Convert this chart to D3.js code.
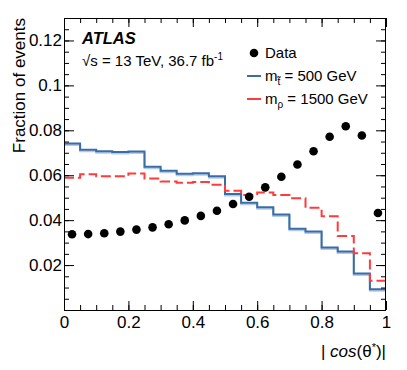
<!DOCTYPE html>
<html>
<head>
<style>
  body { margin: 0; background: #fff; }
  text { font-family: "Liberation Sans", Arial, sans-serif; }
</style>
</head>
<body>
<div id="viz"></div>
<script src="https://d3js.org/d3.v7.min.js"></script>
<script>
  // bin edges (low edge of each bin) of |cos(theta*)|
  const binLow = [0, 0.05, 0.1, 0.15, 0.2, 0.25, 0.3, 0.35, 0.4, 0.45,
                  0.5, 0.55, 0.6, 0.65, 0.7, 0.75, 0.8, 0.85, 0.9, 0.95];
  const binHigh = 1;

  const dataFrac = [0.0337, 0.0338, 0.0342, 0.0349, 0.0358, 0.0368, 0.0382, 0.0399, 0.0419, 0.0442,
                    0.0472, 0.0504, 0.0546, 0.0593, 0.0648, 0.0707, 0.0771, 0.0818, 0.0777, 0.0432];
  const stopFrac = [0.0741, 0.0714, 0.0707, 0.0703, 0.0706, 0.0638, 0.0620, 0.0607, 0.0609, 0.0595,
                    0.0516, 0.0478, 0.0457, 0.0425, 0.0362, 0.0349, 0.0278, 0.0260, 0.0163, 0.0092];
  const coloronFrac = [0.0589, 0.0604, 0.0596, 0.0596, 0.0608, 0.0586, 0.0572, 0.0567, 0.0570, 0.0558,
                       0.0531, 0.0512, 0.0523, 0.0512, 0.0498, 0.0455, 0.0417, 0.0329, 0.0253, 0.0130];

  const xMajor = [0, 0.2, 0.4, 0.6, 0.8, 1];
  const yMajor = [0.02, 0.04, 0.06, 0.08, 0.1, 0.12];

  const width = 407, height = 370;
  const pLeft = 64, pRight = 386, pTop = 18, pBottom = 310;

  const svg = d3.select("#viz").append("svg")
      .attr("width", width)
      .attr("height", height);

  const x = d3.scaleLinear().domain([0, 1]).range([pLeft, pRight]);
  const y = d3.scaleLinear().domain([0, 0.13]).range([pBottom, pTop]);

  const blue = "#3a6ca6", red = "#ff3b3b";

  // step line for a histogram
  function stepPoints(vals){
    const pts = binLow.map((b, i) => [b, vals[i]]);
    pts.push([binHigh, vals[vals.length - 1]]);
    return pts;
  }
  const step = d3.line()
      .x(d => x(d[0]))
      .y(d => y(d[1]))
      .curve(d3.curveStepAfter);

  // stop: light band under the line
  svg.append("path")
      .attr("d", step(stepPoints(stopFrac)))
      .attr("transform", "translate(0,1.5)")
      .attr("fill", "none")
      .attr("stroke", "#b4cbe3")
      .attr("stroke-width", 2);

  svg.append("path")
      .attr("d", step(stepPoints(stopFrac)))
      .attr("fill", "none")
      .attr("stroke", blue)
      .attr("stroke-width", 2);

  svg.append("path")
      .attr("d", step(stepPoints(coloronFrac)))
      .attr("fill", "none")
      .attr("stroke", red)
      .attr("stroke-width", 2)
      .attr("stroke-dasharray", "10,4");

  // data points at bin centres
  svg.selectAll(".dot")
      .data(dataFrac)
    .enter().append("circle")
      .attr("class", "dot")
      .attr("cx", (d, i) => x((binLow[i] + (binLow[i + 1] ?? binHigh)) / 2))
      .attr("cy", d => y(d))
      .attr("r", 4.3)
      .attr("fill", "#000");

  // axes: ticks inside on all four sides
  const xMinor = d3.range(0, 1.0001, 0.05);
  const yMinor = d3.range(0.005, 0.1301, 0.005);

  function ticks(axis, tr){
    const g = svg.append("g").attr("transform", tr).call(axis);
    g.select(".domain").remove();
    g.selectAll("line").attr("stroke", "#000");
    return g;
  }

  ticks(d3.axisBottom(x).tickValues(xMinor).tickSize(-5).tickFormat(""), `translate(0,${pBottom})`);
  ticks(d3.axisTop(x).tickValues(xMinor).tickSize(-5).tickFormat(""), `translate(0,${pTop})`);
  ticks(d3.axisTop(x).tickValues(xMajor).tickSize(-9).tickFormat(""), `translate(0,${pTop})`);
  ticks(d3.axisLeft(y).tickValues(yMinor).tickSize(-5).tickFormat(""), `translate(${pLeft},0)`);
  ticks(d3.axisRight(y).tickValues(yMinor).tickSize(-5).tickFormat(""), `translate(${pRight},0)`);
  ticks(d3.axisRight(y).tickValues(yMajor).tickSize(-10).tickFormat(""), `translate(${pRight},0)`);

  const xAxis = ticks(d3.axisBottom(x).tickValues(xMajor).tickSize(-9).tickPadding(6)
        .tickFormat(d3.format("")), `translate(0,${pBottom})`);
  xAxis.selectAll("text")
      .attr("font-size", 17)
      .attr("fill", "#000");

  const yAxis = ticks(d3.axisLeft(y).tickValues(yMajor).tickSize(-10).tickPadding(2)
        .tickFormat(d3.format("")), `translate(${pLeft},0)`);
  yAxis.selectAll("text")
      .attr("font-size", 17)
      .attr("fill", "#000");

  svg.append("rect")
      .attr("x", pLeft + 0.5)
      .attr("y", pTop + 0.5)
      .attr("width", pRight - pLeft - 1)
      .attr("height", pBottom - pTop)
      .attr("fill", "none")
      .attr("stroke", "#000")
      .attr("stroke-width", 1);

  // axis titles
  svg.append("text")
      .attr("transform", `translate(25,${pTop}) rotate(-90)`)
      .attr("text-anchor", "end")
      .attr("font-size", 17)
      .text("Fraction of events");

  const xt = svg.append("text")
      .attr("x", pRight)
      .attr("y", 357)
      .attr("text-anchor", "end")
      .attr("font-size", 17)
      .attr("xml:space", "preserve");
  xt.append("tspan").text("| ");
  xt.append("tspan").attr("font-style", "italic").text("cos");
  xt.append("tspan").text("(θ");
  xt.append("tspan").attr("font-size", 11).attr("dy", -6).text("*");
  xt.append("tspan").attr("dy", 6).text(")|");

  // ATLAS label
  svg.append("text")
      .attr("x", 82)
      .attr("y", 44)
      .attr("font-size", 16.5)
      .attr("font-weight", "bold")
      .attr("font-style", "italic")
      .text("ATLAS");

  const lumi = svg.append("text")
      .attr("x", 82)
      .attr("y", 65.5)
      .attr("font-size", 15);
  lumi.append("tspan").text("√s = 13 TeV, 36.7 fb");
  lumi.append("tspan").attr("font-size", 10).attr("dy", -6).text("-1");

  // legend
  const lg = svg.append("g");
  lg.append("circle").attr("cx", 254).attr("cy", 53).attr("r", 4.3).attr("fill", "#000");
  lg.append("text").attr("x", 265).attr("y", 57.5).attr("font-size", 15).text("Data");

  lg.append("line").attr("x1", 247).attr("x2", 261).attr("y1", 76).attr("y2", 76)
      .attr("stroke", blue).attr("stroke-width", 2);
  const l1 = lg.append("text").attr("x", 265).attr("y", 81).attr("font-size", 15);
  l1.append("tspan").text("m");
  l1.append("tspan").attr("font-size", 10).attr("dy", 4).text("t\u0303");
  l1.append("tspan").attr("dy", -4).text(" = 500 GeV");

  lg.append("line").attr("x1", 247).attr("x2", 261).attr("y1", 99).attr("y2", 99)
      .attr("stroke", red).attr("stroke-width", 2);
  const l2 = lg.append("text").attr("x", 265).attr("y", 104).attr("font-size", 15);
  l2.append("tspan").text("m");
  l2.append("tspan").attr("font-size", 10).attr("dy", 4).text("ρ");
  l2.append("tspan").attr("dy", -4).text(" = 1500 GeV");
</script>
</body>
</html>
